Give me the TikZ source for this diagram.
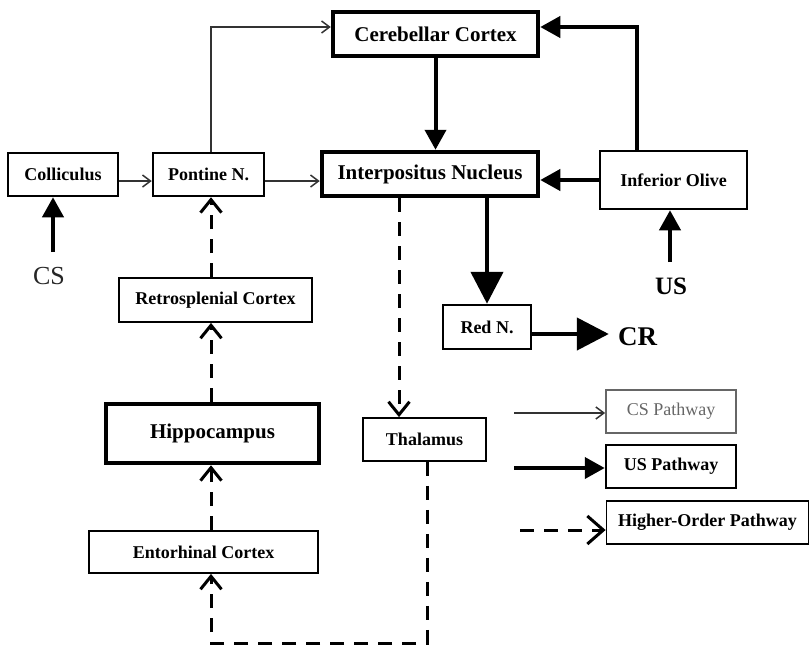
\documentclass[tikz,border=0pt]{standalone}
\usepackage{fontspec}
\setmainfont{Liberation Serif}
\usetikzlibrary{arrows.meta}

\begin{document}
\begin{tikzpicture}[x=1pt,y=-1pt,
  every node/.style={font=\fontsize{18}{20}\selectfont\bfseries,inner sep=0pt},
  box/.style={draw,line width=2.5pt},
  thickbox/.style={draw,line width=4.5pt,font=\fontsize{21}{24}\selectfont\bfseries},
  thinbox/.style={draw,line width=1.8pt},
  cspath/.style={line width=1.5pt,black!80,-{Straight Barb[length=8pt,width=12pt]}},
  uspath/.style={line width=4pt,-{Triangle[length=20pt,width=21pt]}},
  bigpath/.style={line width=4.5pt,-{Triangle[length=32pt,width=32pt]}},
  hopath/.style={line width=3pt,dash pattern=on 14pt off 10pt,-{Straight Barb[length=13pt,width=21pt]}}]
  \useasboundingbox (0,0) rectangle (810,646);

  \node[thickbox,minimum width=205pt,minimum height=44pt] (cerebellar) at (435.5,34) {Cerebellar Cortex};
  \node[box,minimum width=110pt,minimum height=43pt] (colliculus) at (63,174.5) {Colliculus};
  \node[box,minimum width=111pt,minimum height=43pt] (pontine) at (208.5,174.5) {Pontine N.};
  \node[thickbox,minimum width=216pt,minimum height=44pt] (interpositus) at (430,174) {Interpositus Nucleus};
  \node[box,minimum width=147pt,minimum height=58pt] (olive) at (673.5,180) {Inferior Olive};
  \node[thinbox,minimum width=193pt,minimum height=44pt] (retro) at (215.5,300) {Retrosplenial Cortex};
  \node[box,minimum width=88pt,minimum height=44pt] (redn) at (487,327) {Red N.};
  \node[thickbox,minimum width=213pt,minimum height=59pt] (hippo) at (212.5,433.5) {Hippocampus};
  \node[thinbox,minimum width=123pt,minimum height=43pt] (thalamus) at (424.5,439.5) {Thalamus};
  \node[thinbox,minimum width=229pt,minimum height=42pt] (entorhinal) at (203.5,552) {Entorhinal Cortex};

  \node[font=\fontsize{26}{28}\selectfont,black!85] (cs) at (49,276) {CS};
  \node[font=\fontsize{25}{28}\selectfont\bfseries] (us) at (671,286) {US};
  \node[font=\fontsize{27}{30}\selectfont\bfseries] (cr) at (637.5,337) {CR};

  % legend
  \node[thinbox,draw=black!60,text=black!60,font=\fontsize{18}{20}\selectfont,minimum width=130pt,minimum height=43pt] (cslegend) at (671,411.5) {CS Pathway};
  \node[box,minimum width=130pt,minimum height=43pt] (uslegend) at (671,466.5) {US Pathway};
  \node[thinbox,minimum width=202pt,minimum height=43pt] (holegend) at (707.5,522.5) {Higher-Order Pathway};

  \coordinate (spine) at (211,0);
  \coordinate (thalline) at (399,0);
  \coordinate (csrow) at (0,181);
  \coordinate (bottom) at (0,643);
  \coordinate (csfoot) at (53,252);
  \coordinate (usfoot) at (670,262);
  \coordinate (csstart) at (514,413);
  \coordinate (usstart) at (514,468);
  \coordinate (hostart) at (520,530);

  % CS pathway
  \draw[cspath] (pontine.north -| spine) |- ([yshift=7pt]cerebellar.west);
  \foreach \from/\to in {colliculus.east |- csrow/pontine.west |- csrow,
                         pontine.east |- csrow/interpositus.west |- csrow,
                         csstart/csstart -| cslegend.west}
    \draw[cspath] (\from) -- (\to);

  % US pathway
  \draw[uspath] ([xshift=-36.5pt]olive.north) |- ([yshift=7pt]cerebellar.east);
  \foreach \from/\to in {csfoot/csfoot |- colliculus.south,
                         usfoot/usfoot |- olive.south,
                         cerebellar.south/cerebellar.south |- interpositus.north,
                         olive.west/olive.west -| interpositus.east,
                         usstart/usstart -| uslegend.west}
    \draw[uspath] (\from) -- (\to);
  \draw[bigpath] (redn.north |- interpositus.south) -- (redn.north);
  \draw[bigpath,shorten >=9pt] ([yshift=-7pt]redn.east) -- ([yshift=-7pt]redn.east -| cr.west);

  % higher-order pathway
  \foreach \from/\to in {retro.north -| spine/pontine.south -| spine,
                         hippo.north -| spine/retro.south -| spine,
                         entorhinal.north -| spine/hippo.south -| spine,
                         interpositus.south -| thalline/thalamus.north -| thalline}
    \draw[hopath] (\from) -- (\to);
  \draw[hopath,-{Straight Barb[length=16pt,width=28pt]}] (hostart) -- (hostart -| holegend.west);
  \draw[hopath] ([xshift=2.5pt]thalamus.south) -- ([xshift=2.5pt]thalamus.south |- bottom) -| (entorhinal.south -| spine);
\end{tikzpicture}
\end{document}
